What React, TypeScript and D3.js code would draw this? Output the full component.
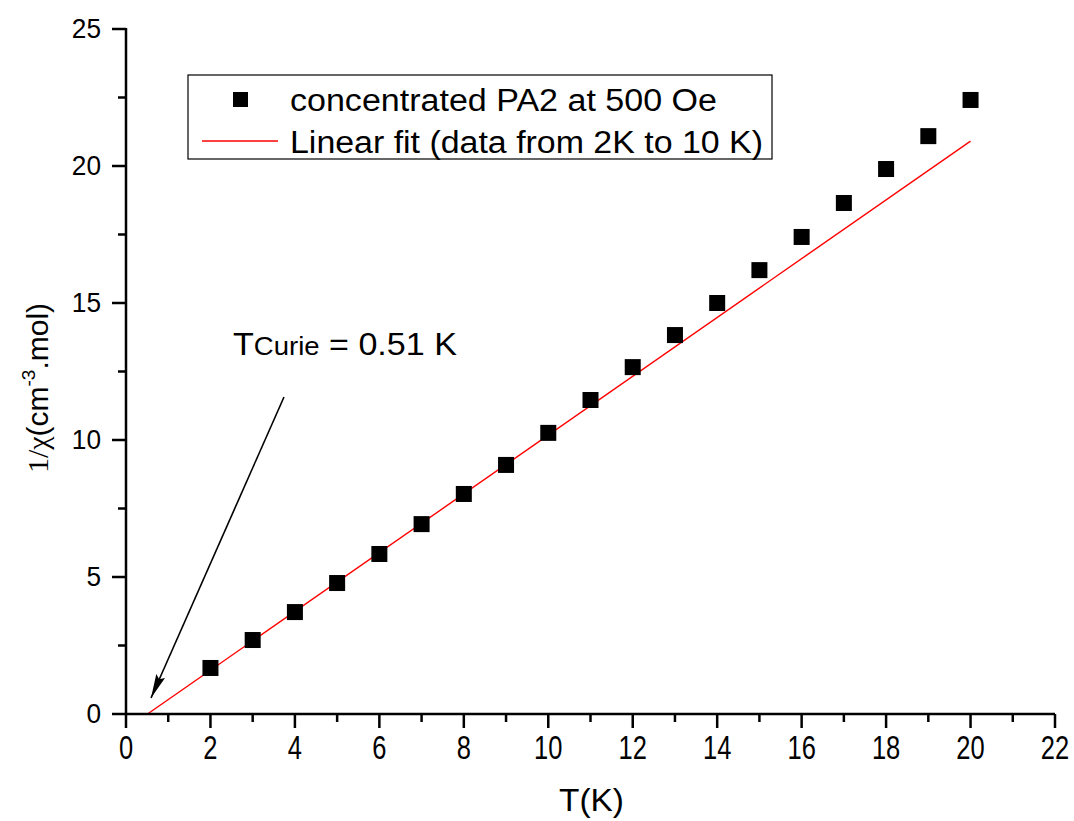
import * as d3 from "d3";
import { useEffect } from "react";

// measured data, 1/chi vs T
const tempK = [2, 3, 4, 5, 6, 7, 8, 9, 10, 11, 12, 13, 14, 15, 16, 17, 18, 19, 20];
const invChi = [1.68, 2.7, 3.72, 4.78, 5.84, 6.93, 8.03, 9.09, 10.26, 11.46, 12.66, 13.83, 15.0, 16.2, 17.41, 18.65, 19.89, 21.09, 22.41];

// linear fit end points
const fitT = [0.51, 20];
const fitY = [0, 20.91];

const xMajor = [0, 2, 4, 6, 8, 10, 12, 14, 16, 18, 20, 22];
const xMinor = [1, 3, 5, 7, 9, 11, 13, 15, 17, 19, 21];
const yMajor = [0, 5, 10, 15, 20, 25];
const yMinor = [2.5, 7.5, 12.5, 17.5, 22.5];

const legendLabels = ["concentrated PA2 at 500 Oe", "Linear fit (data from 2K to 10 K)"];

export default function App({
  width = 1074,
  height = 821,
  marginTop = 29,
  marginRight = 19,
  marginBottom = 107,
  marginLeft = 126,
}) {
  useEffect(() => {
    document.body.style.margin = "0";
  }, []);

  const x = d3.scaleLinear().domain([0, 22]).range([marginLeft, width - marginRight]);
  const y = d3.scaleLinear().domain([0, 25]).range([height - marginBottom, marginTop]);

  const font = "'Liberation Sans', Arial, sans-serif";
  const y0 = y(0);
  const sq = 16;

  const fitLine = d3
    .line<number>()
    .x((d) => x(d))
    .y((_, i) => y(fitY[i]));

  return (
    <svg width={width} height={height} style={{ display: "block", background: "#fff" }} fontFamily={font}>
      <defs>
        <marker id="arrow2" viewBox="0 0 20 8" refX="20" refY="4" markerWidth="24" markerHeight="10" markerUnits="userSpaceOnUse" orient="auto">
          <path d="M0,0 L20,4 L0,8 L3,4 z" fill="#000" />
        </marker>
      </defs>

      {/* fit line */}
      <path d={fitLine(fitT) ?? ""} stroke="#ff0000" strokeWidth={1.4} fill="none" />

      {/* data */}
      {tempK.map((t, i) => (
        <rect key={t} x={x(t) - sq / 2} y={y(invChi[i]) - sq / 2} width={sq} height={sq} fill="#000" />
      ))}

      {/* axes */}
      <g stroke="#000" strokeWidth={2.5}>
        <line x1={x(0)} x2={x(22)} y1={y0} y2={y0} />
        <line x1={x(0)} x2={x(0)} y1={y(0)} y2={y(25) - 1} />
        {xMajor.map((t) => (
          <line key={"xM" + t} x1={x(t)} x2={x(t)} y1={y0} y2={y0 + 14} />
        ))}
        {xMinor.map((t) => (
          <line key={"xm" + t} x1={x(t)} x2={x(t)} y1={y0} y2={y0 + 8} />
        ))}
        {yMajor.map((t) => (
          <line key={"yM" + t} x1={x(0) - 14} x2={x(0)} y1={y(t)} y2={y(t)} />
        ))}
        {yMinor.map((t) => (
          <line key={"ym" + t} x1={x(0) - 8} x2={x(0)} y1={y(t)} y2={y(t)} />
        ))}
      </g>

      <g fontSize={25} fill="#000">
        {xMajor.map((t) => (
          <text key={"xl" + t} transform={`translate(${x(t)},${y0 + 45}) scale(1.02,1.3)`} textAnchor="middle">
            {t}
          </text>
        ))}
        {yMajor.map((t) => (
          <text key={"yl" + t} transform={`translate(${x(0) - 25},${y(t) + 9}) scale(1.05,1.1)`} textAnchor="end">
            {t}
          </text>
        ))}
      </g>

      {/* axis titles */}
      <text x={559} y={811} fontSize={31} textLength={65} lengthAdjust="spacingAndGlyphs">
        T(K)
      </text>
      <text transform="translate(48,388) rotate(-90)" fontSize={30} textAnchor="middle">
        <tspan fontFamily="'Liberation Serif', 'Times New Roman', serif">1/χ</tspan>
        <tspan>(cm</tspan>
        <tspan fontSize={19} dy={-13}>-3</tspan>
        <tspan dy={13}>.mol)</tspan>
      </text>

      {/* legend */}
      <rect x={188} y={75} width={584} height={84} fill="#fff" stroke="#000" strokeWidth={1.2} />
      <rect x={240.5 - 7.5} y={99.5 - 7.5} width={15} height={15} fill="#000" />
      <line x1={202} x2={278} y1={141} y2={141} stroke="#ff0000" strokeWidth={1.4} />
      <text x={290} y={111} fontSize={31} textLength={427} lengthAdjust="spacingAndGlyphs">
        {legendLabels[0]}
      </text>
      <text x={290} y={153} fontSize={31} textLength={473} lengthAdjust="spacingAndGlyphs">
        {legendLabels[1]}
      </text>

      {/* annotation */}
      <text x={233} y={355} fontSize={31} textLength={224} lengthAdjust="spacingAndGlyphs">
        T<tspan fontSize={25}>Curie</tspan> = 0.51 K
      </text>
      <line x1={284} y1={397} x2={151} y2={698} stroke="#000" strokeWidth={1.6} markerEnd="url(#arrow2)" />
    </svg>
  );
}
